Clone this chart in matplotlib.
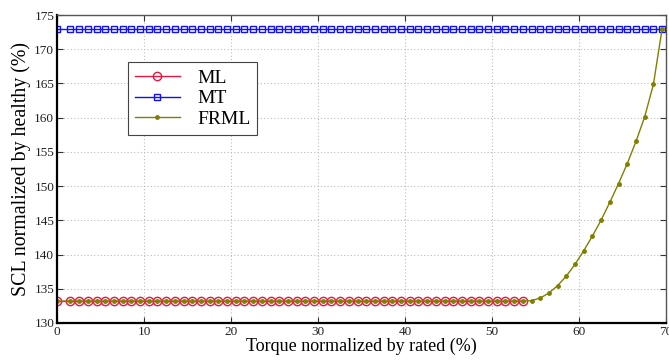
import matplotlib
matplotlib.use("Agg")
import matplotlib.pyplot as plt

# torque grid (% of rated)
torque = [0.0, 1.55, 2.55, 3.55, 4.55, 5.55, 6.55, 7.55, 8.55, 9.55,
          10.55, 11.55, 12.55, 13.55, 14.55, 15.55, 16.55, 17.55, 18.55, 19.55,
          20.55, 21.55, 22.55, 23.55, 24.55, 25.55, 26.55, 27.55, 28.55, 29.55,
          30.55, 31.55, 32.55, 33.55, 34.55, 35.55, 36.55, 37.55, 38.55, 39.55,
          40.55, 41.55, 42.55, 43.55, 44.55, 45.55, 46.55, 47.55, 48.55, 49.55,
          50.55, 51.55, 52.55, 53.55, 54.55, 55.55, 56.55, 57.55, 58.55, 59.55,
          60.55, 61.55, 62.55, 63.55, 64.55, 65.55, 66.55, 67.55, 68.55, 69.55]

ml_level = 133.2   # ML flat level
mt_level = 172.9   # MT flat level
n_ml = 54          # ML points (up to ~53.5 %)

ml_x = torque[:n_ml]
ml_y = [ml_level] * n_ml
mt_x = torque
mt_y = [mt_level] * len(torque)

frml_rise = [133.27, 133.65, 134.39, 135.47, 136.87, 138.58, 140.58, 142.72,
             145.06, 147.65, 150.38, 153.30, 156.52, 160.12, 164.85, 172.94]
frml_x = torque
frml_y = [ml_level] * n_ml + frml_rise

plt.rcParams["font.family"] = ["Liberation Serif", "DejaVu Serif"]

fig = plt.figure(figsize=(6.69, 3.6), dpi=100)
ax = fig.add_axes([0.0852, 0.1028, 0.9103, 0.8555])

ax.plot(ml_x, ml_y, color="#e8173f", marker="o", markersize=6,
        markerfacecolor="none", markeredgewidth=1.0, linewidth=1.0, label="ML")
ax.plot(mt_x, mt_y, color="#1010ff", marker="s", markersize=4.5,
        markerfacecolor="none", markeredgewidth=1.0, linewidth=1.0, label="MT")
ax.plot(frml_x, frml_y, color="#808000", marker="o", markersize=2.5,
        linewidth=1.0, label="FRML")

ax.set_xlim(0, 70)
ax.set_ylim(130, 175)
ax.set_xticks(range(0, 71, 10))
ax.set_yticks(range(130, 176, 5))
ax.grid(True, linestyle=(0, (1, 2)), color="#bbbbbb", linewidth=0.8)

ax.tick_params(direction="in", top=True, right=True, labelsize=9.5,
               length=4, color="#333333", labelcolor="#222222", pad=2)
for s in ("left", "bottom"):
    ax.spines[s].set_linewidth(1.6)
    ax.spines[s].set_color("black")
for s in ("top", "right"):
    ax.spines[s].set_linewidth(1.0)
    ax.spines[s].set_color("#555555")

ax.set_xlabel("Torque normalized by rated (%)", fontsize=13, labelpad=0)
ax.set_ylabel("SCL normalized by healthy (%)", fontsize=14.3, labelpad=2)

leg = ax.legend(loc="upper left", bbox_to_anchor=(0.1166, 0.846), fontsize=14,
                fancybox=False, framealpha=1, edgecolor="#444444",
                borderaxespad=0, handlelength=2.3, handletextpad=0.9,
                borderpad=0.35, labelspacing=0.15)
leg.get_frame().set_linewidth(0.8)

fig.savefig("out.png", dpi=100)
